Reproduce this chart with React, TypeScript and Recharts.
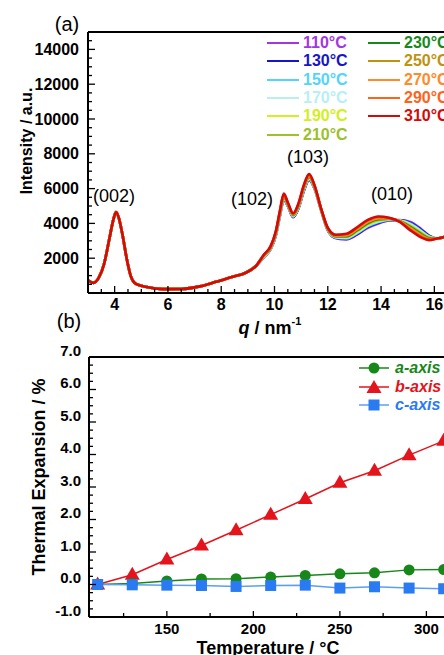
import { Legend, Line, LineChart, ReferenceLine, XAxis, YAxis } from 'recharts';

const FONT = '"Liberation Sans", Arial, Helvetica, sans-serif';

// ---- panel (a): scattering intensity vs q ----
const temperaturesA = [110, 130, 150, 170, 190, 210, 230, 250, 270, 290, 310];
const curveColors = ['#a236e0', '#1616c8', '#52d4ff', '#b8f0f2', '#d2ee24', '#9cc02e', '#17891c', '#bf920f', '#ff8a2a', '#ff631a', '#d30a0a'];

const qValues = [
  3.0, 3.2, 3.4, 3.6, 3.8, 3.95, 4.05, 4.15, 4.3, 4.45, 4.6, 4.8, 5.2, 5.8, 6.5, 7.2, 7.8, 8.4, 8.9, 9.3,
  9.6, 9.85, 10.05, 10.2, 10.35, 10.5, 10.7, 10.9, 11.1, 11.3, 11.5, 11.75, 12.0, 12.3, 12.7, 13.1, 13.5, 13.9, 14.3, 14.7, 15.1, 15.5, 15.8, 16.1, 16.4, 16.7,
];

// low-q part, identical for every temperature
const sharedLowQ = [730, 580, 870, 1650, 3100, 4200, 4650, 4350, 3300, 2000, 1000, 520, 340, 220, 230, 380, 640, 920, 1150, 1550];

const i110 = [2050, 2500, 3300, 4400, 5350, 5000, 4350, 4850, 5850, 6480, 6000, 4750, 3600, 3150, 3080, 3350, 3750, 4000, 4170, 4190, 4080, 3680, 3300, 3130, 3220, 3280];
const i130 = [2070, 2520, 3330, 4430, 5390, 5020, 4370, 4880, 5890, 6520, 6020, 4760, 3610, 3170, 3110, 3390, 3800, 4040, 4190, 4180, 4030, 3630, 3280, 3130, 3220, 3280];
const i150 = [2080, 2540, 3350, 4460, 5420, 5040, 4400, 4910, 5920, 6550, 6040, 4770, 3630, 3190, 3140, 3440, 3840, 4080, 4200, 4170, 3990, 3580, 3250, 3130, 3220, 3280];
const i170 = [2100, 2550, 3380, 4490, 5460, 5060, 4420, 4940, 5960, 6590, 6060, 4780, 3640, 3210, 3180, 3480, 3890, 4120, 4220, 4160, 3940, 3540, 3220, 3130, 3220, 3280];
const i190 = [2110, 2570, 3400, 4520, 5500, 5080, 4440, 4970, 5990, 6620, 6080, 4790, 3660, 3230, 3210, 3520, 3930, 4160, 4230, 4150, 3890, 3490, 3200, 3130, 3220, 3280];
const i210 = [2130, 2590, 3430, 4550, 5540, 5100, 4470, 5000, 6030, 6660, 6100, 4800, 3670, 3250, 3240, 3570, 3980, 4200, 4250, 4140, 3840, 3440, 3170, 3130, 3220, 3280];
const i230 = [2140, 2610, 3450, 4580, 5570, 5120, 4490, 5030, 6060, 6690, 6120, 4810, 3690, 3270, 3270, 3610, 4020, 4240, 4270, 4130, 3790, 3390, 3140, 3130, 3220, 3280];
const i250 = [2160, 2630, 3480, 4610, 5610, 5140, 4510, 5060, 6100, 6730, 6140, 4820, 3700, 3290, 3300, 3650, 4070, 4280, 4280, 4120, 3740, 3340, 3120, 3130, 3220, 3280];
const i270 = [2170, 2640, 3500, 4640, 5650, 5160, 4540, 5090, 6130, 6760, 6160, 4830, 3720, 3310, 3340, 3700, 4110, 4320, 4300, 4110, 3700, 3300, 3090, 3130, 3220, 3280];
const i290 = [2190, 2660, 3530, 4670, 5680, 5180, 4560, 5120, 6170, 6800, 6180, 4840, 3730, 3330, 3370, 3740, 4160, 4360, 4310, 4100, 3650, 3250, 3070, 3130, 3220, 3280];
const i310 = [2200, 2680, 3550, 4700, 5720, 5200, 4580, 5150, 6200, 6830, 6200, 4850, 3750, 3350, 3400, 3780, 4200, 4400, 4330, 4090, 3600, 3200, 3040, 3130, 3220, 3280];
const highQ = [i110, i130, i150, i170, i190, i210, i230, i250, i270, i290, i310];

const qTicks = [3, 3.5, 4, 4.5, 5, 5.5, 6, 6.5, 7, 7.5, 8, 8.5, 9, 9.5, 10, 10.5, 11, 11.5, 12, 12.5, 13, 13.5, 14, 14.5, 15, 15.5, 16, 16.5, 17];
const qLabels = [4, 6, 8, 10, 12, 14, 16];
const intensityTicks = [
  0, 500, 1000, 1500, 2000, 2500, 3000, 3500, 4000, 4500, 5000, 5500, 6000, 6500, 7000, 7500,
  8000, 8500, 9000, 9500, 10000, 10500, 11000, 11500, 12000, 12500, 13000, 13500, 14000, 14500, 15000,
];
const intensityLabels = [2000, 4000, 6000, 8000, 10000, 12000, 14000];

// ---- panel (b): thermal expansion vs temperature ----
const temperaturesB = [110, 130, 150, 170, 190, 210, 230, 250, 270, 290, 310];
const aAxis = [0, 0.03, 0.11, 0.17, 0.18, 0.23, 0.28, 0.33, 0.36, 0.45, 0.46];
const bAxis = [0, 0.3, 0.77, 1.2, 1.67, 2.15, 2.63, 3.13, 3.5, 3.98, 4.42];
const cAxis = [0, -0.01, -0.02, -0.03, -0.06, -0.03, -0.02, -0.11, -0.07, -0.11, -0.13];

const tempTicks = [125, 150, 175, 200, 225, 250, 275, 300];
const tempLabels = [150, 200, 250, 300];
const expTicks = [
  -1, -0.75, -0.5, -0.25, 0, 0.25, 0.5, 0.75, 1, 1.25, 1.5, 1.75, 2, 2.25, 2.5, 2.75, 3, 3.25, 3.5, 3.75,
  4, 4.25, 4.5, 4.75, 5, 5.25, 5.5, 5.75, 6, 6.25, 6.5, 6.75, 7,
];
const expLabels = [-1, 0, 1, 2, 3, 4, 5, 6, 7];

const A_COLOR = '#17871a';
const B_COLOR = '#e3141c';
const C_LINE = '#5c9ef3';
const C_MARK = '#2a7bf2';

const dataA = qValues.map((q, i) => {
  const row: Record<string, number> = { q };
  temperaturesA.forEach((t, k) => {
    row[`t${t}`] = i < sharedLowQ.length ? sharedLowQ[i] : highQ[k][i - sharedLowQ.length];
  });
  return row;
});

const dataB = temperaturesB.map((t, i) => ({ t, a: aAxis[i], b: bAxis[i], c: cAxis[i] }));

const tickText = { fontFamily: FONT, fontWeight: 700, fill: '#000' };

const qTick = (props: any) => {
  const { x, y, payload } = props;
  const major = qLabels.includes(payload.value);
  return (
    <g>
      <line x1={x} x2={x} y1={y} y2={y - (major ? 7 : 4)} stroke="#000" strokeWidth={1.3} />
      {major && (
        <text x={x} y={y + 11} textAnchor="middle" dominantBaseline="central" fontSize={16} {...tickText}>
          {payload.value}
        </text>
      )}
    </g>
  );
};

const intensityTick = (props: any) => {
  const { x, y, payload } = props;
  const major = intensityLabels.includes(payload.value);
  return (
    <g>
      <line x1={x} x2={x + (major ? 7 : 4)} y1={y} y2={y} stroke="#000" strokeWidth={1.3} />
      {major && (
        <text x={x - 9} y={y} textAnchor="end" dominantBaseline="central" fontSize={16} {...tickText}>
          {payload.value}
        </text>
      )}
    </g>
  );
};

const tempTick = (props: any) => {
  const { x, y, payload } = props;
  const major = tempLabels.includes(payload.value);
  return (
    <g>
      <line x1={x} x2={x} y1={y} y2={y - (major ? 6 : 4)} stroke="#000" strokeWidth={1.3} />
      {major && (
        <text x={x} y={y + 11} textAnchor="middle" dominantBaseline="central" fontSize={15} {...tickText}>
          {payload.value}
        </text>
      )}
    </g>
  );
};

const expTick = (props: any) => {
  const { x, y, payload } = props;
  const major = expLabels.includes(payload.value);
  return (
    <g>
      <line x1={x} x2={x + (major ? 7 : 4)} y1={y} y2={y} stroke="#000" strokeWidth={1.3} />
      {major && (
        <text x={x - 8} y={y - 7} textAnchor="end" dominantBaseline="central" fontSize={15} {...tickText}>
          {payload.value.toFixed(1)}
        </text>
      )}
    </g>
  );
};

const circleDot = (props: any) => (
  <circle key={`a-${props.index}`} cx={props.cx} cy={props.cy} r={5.5} fill={A_COLOR} />
);
const triangleDot = (props: any) => {
  const { cx, cy, index } = props;
  return <polygon key={`b-${index}`} points={`${cx},${cy - 8} ${cx - 7.5},${cy + 5} ${cx + 7.5},${cy + 5}`} fill={B_COLOR} />;
};
const squareDot = (props: any) => (
  <rect key={`c-${props.index}`} x={props.cx - 5.5} y={props.cy - 5.5} width={11} height={11} fill={C_MARK} />
);

const legendA = () => (
  <div style={{ position: 'relative', width: 180, height: 112, fontFamily: FONT, fontWeight: 700, fontSize: 16 }}>
    {temperaturesA.map((t, i) => {
      const col = i < 6 ? 0 : 1;
      const row = i < 6 ? i : i - 6;
      return (
        <div
          key={t}
          style={{ position: 'absolute', left: col * 101, top: row * 18.3, height: 18, display: 'flex', alignItems: 'center', color: curveColors[i], whiteSpace: 'nowrap' }}
        >
          <span style={{ display: 'inline-block', width: 32, height: 2, background: curveColors[i], marginRight: 4 }} />
          {t}°C
        </div>
      );
    })}
  </div>
);

const legendItemsB = [
  { name: 'a-axis', color: A_COLOR, line: A_COLOR, shape: 'circle' },
  { name: 'b-axis', color: B_COLOR, line: B_COLOR, shape: 'triangle' },
  { name: 'c-axis', color: C_MARK, line: C_LINE, shape: 'square' },
];

const legendB = () => (
  <div style={{ width: 100, fontFamily: FONT, fontWeight: 700, fontStyle: 'italic', fontSize: 16 }}>
    {legendItemsB.map((it) => (
      <div key={it.name} style={{ height: 18.5, display: 'flex', alignItems: 'center', color: it.color, whiteSpace: 'nowrap' }}>
        <svg width={30} height={18} style={{ marginRight: 6 }}>
          <line x1={0} x2={30} y1={9} y2={9} stroke={it.line} strokeWidth={1.5} />
          {it.shape === 'circle' && <circle cx={15} cy={9} r={5.5} fill={it.color} />}
          {it.shape === 'triangle' && <polygon points="15,2 7.5,15 22.5,15" fill={it.color} />}
          {it.shape === 'square' && <rect x={9.5} y={3.5} width={11} height={11} fill={it.color} />}
        </svg>
        {it.name}
      </div>
    ))}
  </div>
);

const abs = (left: number, top: number, extra: object = {}) => ({
  position: 'absolute' as const,
  left,
  top,
  transform: 'translate(-50%, -50%)',
  whiteSpace: 'nowrap' as const,
  fontFamily: FONT,
  lineHeight: 1,
  ...extra,
});

export default function App() {
  return (
    <div style={{ position: 'fixed', left: 0, top: 0, width: 444, height: 655, overflow: 'hidden', background: '#fff' }}>
      <div style={{ position: 'absolute', left: 0, top: 0 }}>
        <LineChart width={480} height={335} data={dataA} margin={{ top: 32, right: 19, bottom: 12, left: 28 }}>
          <XAxis
            type="number"
            dataKey="q"
            domain={[3, 17]}
            ticks={qTicks}
            interval={0}
            tick={qTick}
            tickLine={false}
            tickSize={0}
            tickMargin={0}
            height={30}
            axisLine={{ stroke: '#000', strokeWidth: 2 }}
          />
          <YAxis
            type="number"
            domain={[0, 15000]}
            ticks={intensityTicks}
            interval={0}
            tick={intensityTick}
            tickLine={false}
            tickSize={0}
            tickMargin={0}
            width={60}
            axisLine={{ stroke: '#000', strokeWidth: 2 }}
          />
          <ReferenceLine y={15000} stroke="#000" strokeWidth={2} />
          {temperaturesA.map((t, k) => (
            <Line
              key={t}
              type="monotone"
              dataKey={`t${t}`}
              stroke={curveColors[k]}
              strokeWidth={2.6}
              dot={false}
              isAnimationActive={false}
            />
          ))}
          <Legend
            layout="vertical"
            align="center"
            verticalAlign="middle"
            wrapperStyle={{ left: 267, top: 34, width: 180 }}
            content={legendA}
          />
        </LineChart>
      </div>

      <div style={{ position: 'absolute', left: 0, top: 335 }}>
        <LineChart width={480} height={320} data={dataB} margin={{ top: 22, right: 19, bottom: 8, left: 29 }}>
          <XAxis
            type="number"
            dataKey="t"
            domain={[105, 320]}
            ticks={tempTicks}
            interval={0}
            tick={tempTick}
            tickLine={false}
            tickSize={0}
            tickMargin={0}
            height={30}
            axisLine={{ stroke: '#000', strokeWidth: 2 }}
          />
          <YAxis
            type="number"
            domain={[-1, 7]}
            ticks={expTicks}
            interval={0}
            tick={expTick}
            tickLine={false}
            tickSize={0}
            tickMargin={0}
            width={60}
            axisLine={{ stroke: '#000', strokeWidth: 2 }}
          />
          <ReferenceLine y={7} stroke="#000" strokeWidth={2} />
          <Line type="linear" dataKey="b" stroke={B_COLOR} strokeWidth={1.5} dot={triangleDot} isAnimationActive={false} />
          <Line type="linear" dataKey="a" stroke={A_COLOR} strokeWidth={1.5} dot={circleDot} isAnimationActive={false} />
          <Line type="linear" dataKey="c" stroke={C_LINE} strokeWidth={1.5} dot={squareDot} isAnimationActive={false} />
          <Legend
            layout="vertical"
            align="center"
            verticalAlign="middle"
            wrapperStyle={{ left: 359, top: 24, width: 100 }}
            content={legendB}
          />
        </LineChart>
      </div>

      {/* panel letters, peak labels and axis titles */}
      <div style={abs(67, 24, { fontSize: 20 })}>(a)</div>
      <div style={abs(69, 321, { fontSize: 20 })}>(b)</div>
      <div style={abs(114, 196, { fontSize: 18 })}>(002)</div>
      <div style={abs(252, 199, { fontSize: 18 })}>(102)</div>
      <div style={abs(308, 157, { fontSize: 18 })}>(103)</div>
      <div style={abs(392, 194, { fontSize: 18 })}>(010)</div>
      <div style={abs(27, 141, { fontSize: 16, fontWeight: 700, transform: 'translate(-50%, -50%) rotate(-90deg)' })}>
        Intensity / a.u.
      </div>
      <div style={abs(270, 328, { fontSize: 18, fontWeight: 700 })}>
        <i>q</i> / nm<sup style={{ fontSize: 11, verticalAlign: 'top', position: 'relative', top: -3 }}>-1</sup>
      </div>
      <div style={abs(39, 477, { fontSize: 18, fontWeight: 700, transform: 'translate(-50%, -50%) rotate(-90deg)' })}>
        Thermal Expansion / %
      </div>
      <div style={abs(268, 648, { fontSize: 18, fontWeight: 700 })}>Temperature / °C</div>
    </div>
  );
}
